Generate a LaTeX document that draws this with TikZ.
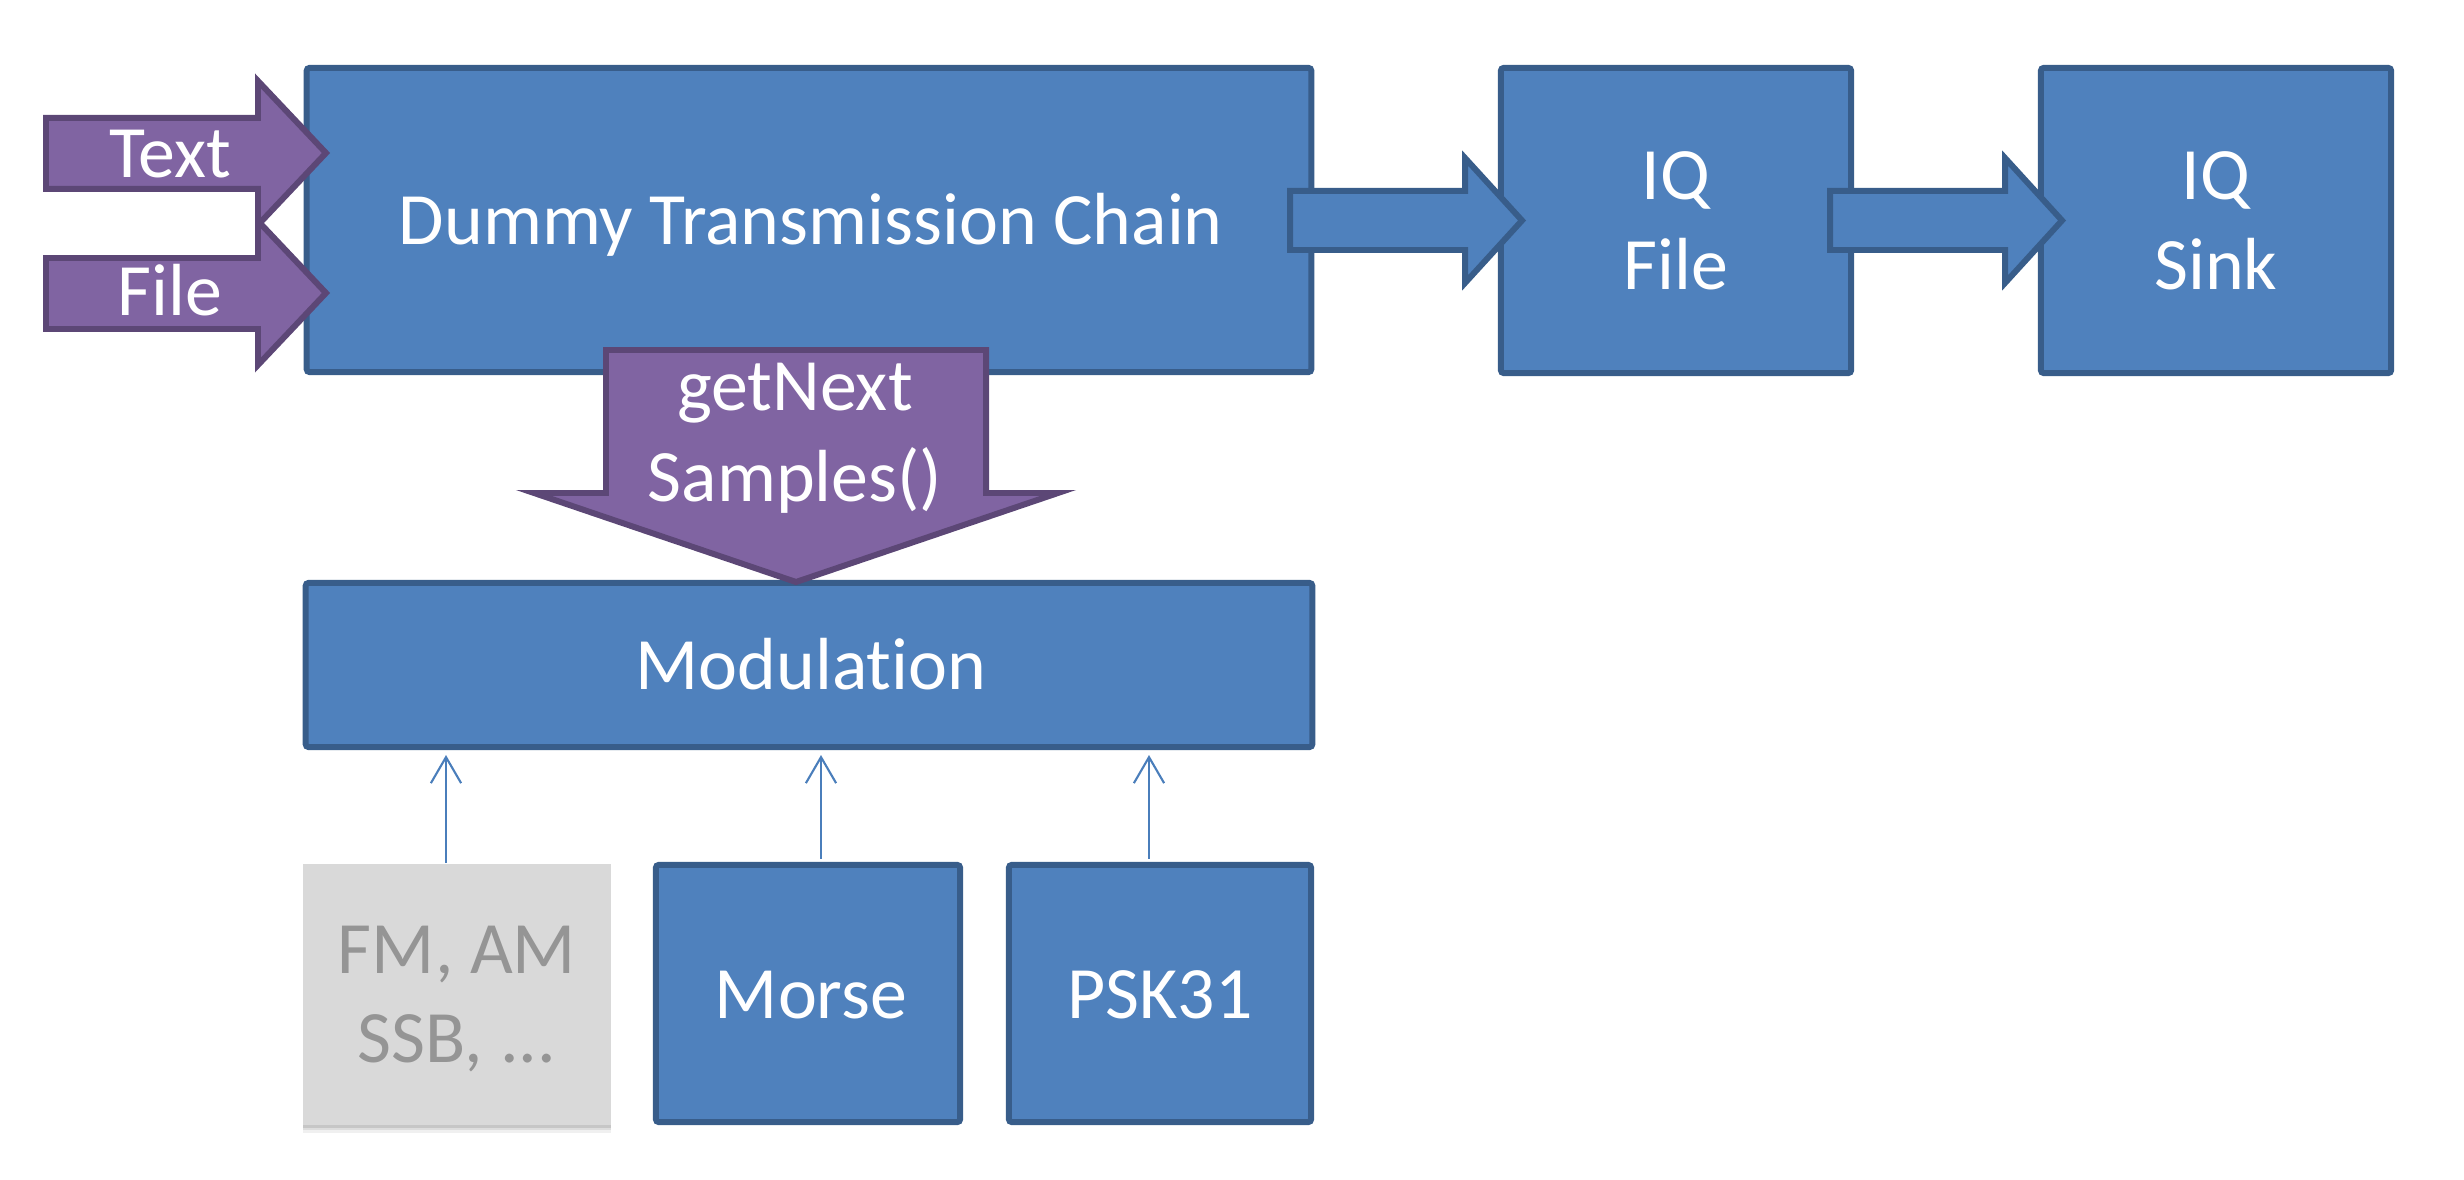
\documentclass[tikz,border=0pt]{standalone}
\usepackage{fontspec}
\setmainfont{Carlito}[RawFeature={-liga}]
\usetikzlibrary{arrows.meta,shadows,calc}
\definecolor{boxfill}{HTML}{4F81BD}
\definecolor{boxline}{HTML}{385D8A}
\definecolor{purfill}{HTML}{8064A2}
\definecolor{purline}{HTML}{5C4776}
\definecolor{grayfill}{HTML}{D9D9D9}
\definecolor{graytext}{HTML}{959595}
\definecolor{thinline}{HTML}{4A7EBB}
\begin{document}
\begin{tikzpicture}[x=0.01cm,y=-0.01cm,
  blockbox/.style={draw=boxline, fill=boxfill, line width=1.7pt, rounded corners=0.8pt, inner sep=0pt},
  graybox/.style={fill=grayfill, inner sep=0pt,
    preaction={fill=black, opacity=0.06, transform canvas={yshift=-2.2pt}},
    preaction={fill=black, opacity=0.08, transform canvas={yshift=-1.5pt}},
    preaction={fill=black, opacity=0.10, transform canvas={yshift=-0.8pt}}},
  purarrow/.style={draw=purline, fill=purfill, line width=1.7pt},
  bluearrow/.style={draw=boxline, fill=boxfill, line width=1.7pt},
  lab/.style={font=\fontsize{21}{25.5}\selectfont, text=white, anchor=base, inner sep=0pt},
  thinarrow/.style={draw=thinline, line width=0.6pt, -{Straight Barb[length=7.4pt,width=8.6pt,line width=0.6pt]}}
]
\useasboundingbox (0,0) rectangle (2464,1180);

% main boxes
\node[blockbox, minimum width=10.04cm, minimum height=3.04cm] (chain) at (809,220) {};
\node[blockbox, minimum width=3.50cm, minimum height=3.05cm] (iqfile) at (1676,220.5) {};
\node[blockbox, minimum width=3.50cm, minimum height=3.05cm] (iqsink) at (2216,220.5) {};
\node[blockbox, minimum width=10.06cm, minimum height=1.64cm] (mod) at (809,665) {};
\node[graybox, minimum width=3.08cm, minimum height=2.61cm] (fmam) at (457,994.5) {};
\node[blockbox, minimum width=3.04cm, minimum height=2.57cm] (morse) at (808,993.5) {};
\node[blockbox, minimum width=3.02cm, minimum height=2.57cm] (psk) at (1160,993.5) {};

% input block arrows
\draw[purarrow] (46,118) -- (258,118) -- (258,81) -- (326,153) -- (258,225) -- (258,189) -- (46,189) -- cycle;
\draw[purarrow] (46,258) -- (258,258) -- (258,221) -- (326,293) -- (258,365) -- (258,329) -- (46,329) -- cycle;

% right block arrows
\draw[bluearrow] (1290,191) -- (1465,191) -- (1465,158) -- (1522,220.5) -- (1465,283) -- (1465,250) -- (1290,250) -- cycle;
\draw[bluearrow] (1830,191) -- (2005,191) -- (2005,158) -- (2062,220.5) -- (2005,283) -- (2005,250) -- (1830,250) -- cycle;

% down block arrow
\draw[purarrow] (606,350) -- (986,350) -- (986,493) -- (1058,493) -- (796,582) -- (534,493) -- (606,493) -- cycle;

% thin arrows
\coordinate (c1) at ($(fmam.north)+(-11,0)$);
\coordinate (c2) at ($(morse.north)+(13,-3)$);
\coordinate (c3) at ($(psk.north)+(-11,-3)$);
\draw[thinarrow] (c1) -- ($(c1 |- mod.south)+(0,5)$);
\draw[thinarrow] (c2) -- ($(c2 |- mod.south)+(0,5)$);
\draw[thinarrow] (c3) -- ($(c3 |- mod.south)+(0,5)$);

% labels
\node[lab] (chaint) at (811,245) {Dummy Transmission Chain};
\node[lab] (textt) at (170,178) {Text};
\node[lab] (filet) at (170,316) {File};
\node[lab] (gett1) at (795,411) {getNext};
\node[lab] (gett2) at (795,502) {Samples()};
\node[lab] (iqft1) at (1676,200) {IQ};
\node[lab] (iqft2) at (1676,290) {File};
\node[lab] (iqst1) at (2216,200) {IQ};
\node[lab] (iqst2) at (2216,290) {Sink};
\node[lab] (modt) at (811,690) {Modulation};
\node[lab, text=graytext] (fmt1) at (457,973) {FM, AM};
\node[lab, text=graytext] (fmt2) at (457,1062) {SSB, ...};
\node[lab] (morset) at (811,1018) {Morse};
\node[lab] (pskt) at (1160,1018) {PSK31};
\end{tikzpicture}
\end{document}
